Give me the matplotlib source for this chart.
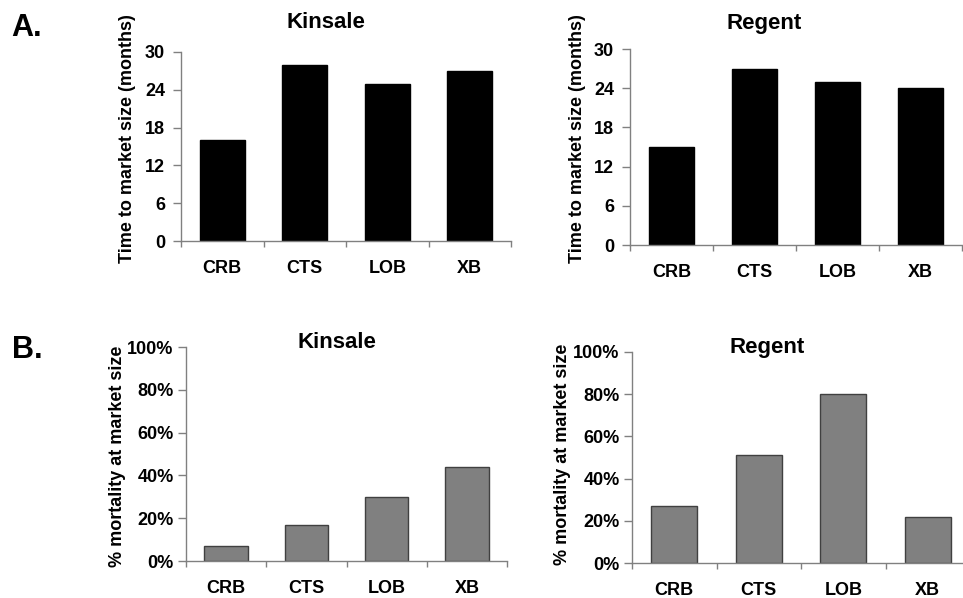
import matplotlib
matplotlib.use("Agg")
import matplotlib.pyplot as plt
import numpy as np
from matplotlib.ticker import FixedLocator

plt.rcParams['font.family'] = ['Liberation Sans', 'DejaVu Sans']
plt.rcParams['font.weight'] = 'bold'

groups = ['CRB', 'CTS', 'LOB', 'XB']
time_kinsale = [16, 28, 25, 27]
time_regent = [15, 27, 25, 24]
mort_kinsale = [7, 17, 30, 44]
mort_regent = [27, 51, 80, 22]

W, H = 963, 598
fig = plt.figure(figsize=(W / 100, H / 100), dpi=100)


def px_axes(l, t, r, b):
    return fig.add_axes([l / W, 1 - b / H, (r - l) / W, (b - t) / H])


def style(ax, ymax, step, pct, ypad):
    x = np.arange(len(groups))
    ax.set_xlim(-0.5, len(groups) - 0.5)
    ax.set_ylim(0, ymax)
    ax.set_yticks(np.arange(0, ymax + 1, step))
    if pct:
        ax.set_yticklabels(['%d%%' % v for v in np.arange(0, ymax + 1, step)])
    ax.xaxis.set_major_locator(FixedLocator(np.arange(-0.5, len(groups), 1.0)))
    ax.xaxis.set_major_formatter(plt.NullFormatter())
    ax.set_xticks(x, minor=True)
    ax.set_xticklabels(groups, minor=True)
    ax.tick_params(axis='x', which='major', length=4.5, width=1, color='#808080', direction='out')
    ax.tick_params(axis='x', which='minor', length=0, pad=13.5, labelsize=13)
    ax.tick_params(axis='y', length=5.5, width=1, color='#808080', pad=ypad, labelsize=13)
    for s in ['top', 'right']:
        ax.spines[s].set_visible(False)
    for s in ['left', 'bottom']:
        ax.spines[s].set_color('#808080')
        ax.spines[s].set_linewidth(1)
    for lab in ax.get_xticklabels(minor=True) + ax.get_yticklabels():
        lab.set_fontweight('bold')


x = np.arange(len(groups))

ax1 = px_axes(181, 52, 511, 241)
ax1.bar(x, time_kinsale, 0.55, color='black', edgecolor='black')
style(ax1, 30, 6, False, 6)

ax2 = px_axes(630, 49, 962, 245)
ax2.bar(x, time_regent, 0.55, color='black', edgecolor='black')
style(ax2, 30, 6, False, 6)

ax3 = px_axes(186, 347, 507, 561)
ax3.bar(x, mort_kinsale, 0.54, color='#808080', edgecolor='#404040', linewidth=1)
style(ax3, 100, 20, True, 3.5)

ax4 = px_axes(632, 352, 970, 563)
ax4.bar(x, mort_regent, 0.54, color='#808080', edgecolor='#404040', linewidth=1)
style(ax4, 100, 20, True, 3.5)


def ftext(px, py, s, **kw):
    fig.text(px / W, 1 - py / H, s, ha='center', va='center', fontweight='bold', **kw)


ftext(326, 23, 'Kinsale', fontsize=16)
ftext(764, 23, 'Regent', fontsize=16)
ftext(337, 343, 'Kinsale', fontsize=16)
ftext(767, 348, 'Regent', fontsize=16)

ftext(127, 139, 'Time to market size (months)', fontsize=13, rotation=90)
ftext(577, 139, 'Time to market size (months)', fontsize=13, rotation=90)
ftext(118, 456, '% mortality at market size', fontsize=13, rotation=90)
ftext(562, 454, '% mortality at market size', fontsize=13, rotation=90)

ftext(27, 28, 'A.', fontsize=22)
ftext(27, 350, 'B.', fontsize=22)

fig.savefig('out.png', dpi=100)
